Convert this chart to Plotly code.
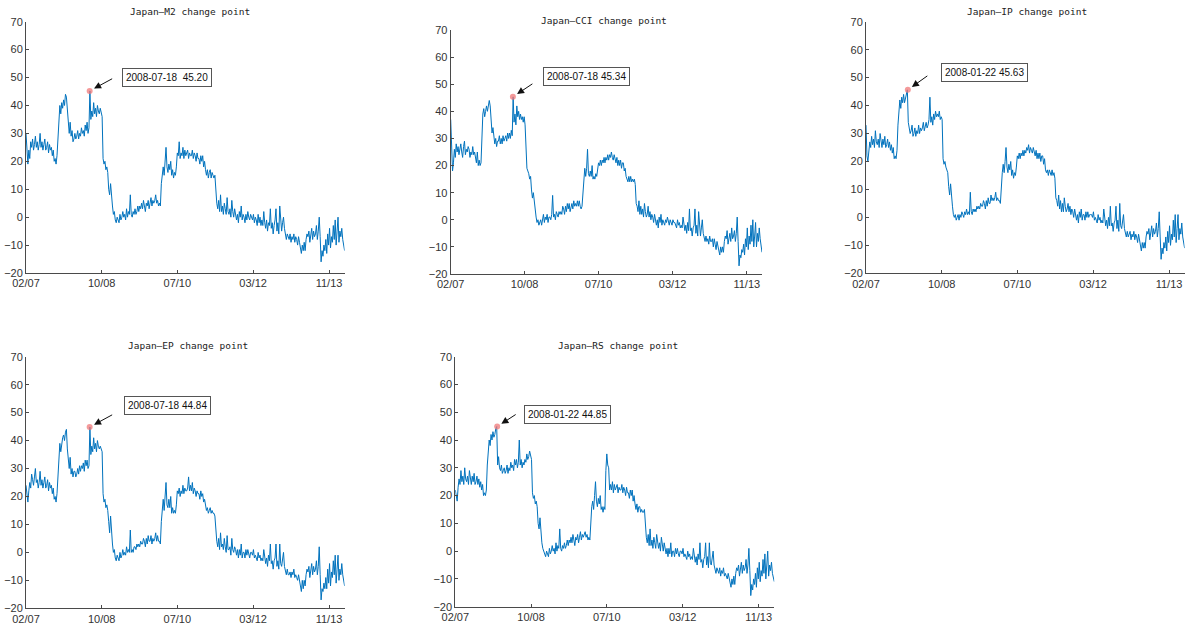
import pandas as pd
import plotly.graph_objects as go

# ---------------- data ----------------
start_date = "2007-02-15"
end_date = "2014-03-28"
tick_dates = ["2007-02-15", "2008-10-24", "2010-07-03", "2012-03-12", "2013-11-21"]
tick_labels = ["02/07", "10/08", "07/10", "03/12", "11/13"]
y_ticks = [-20, -10, 0, 10, 20, 30, 40, 50, 60, 70]

titles = ["Japan\u2014M2 change point", "Japan\u2014CCI change point", "Japan\u2014IP change point",
          "Japan\u2014EP change point", "Japan\u2014RS change point"]

m2 = [30, 22, 19, 24, 21, 27, 25, 28, 24, 26, 29, 25, 27, 24, 26, 30,
      25, 27, 24, 26, 28, 24, 25, 27, 23, 26, 24, 25, 22, 24, 20, 21,
      19, 22, 30, 38, 40, 37, 41, 39, 42, 40, 44, 43, 38, 33, 30, 34,
      29, 31, 27, 28, 30, 28, 29, 31, 28, 30, 29, 32, 30, 31, 29, 33,
      31, 34, 30, 32, 45.2, 35, 38, 36, 41, 37, 39, 36, 40, 38, 37, 39,
      37, 36, 21, 19, 20, 17, 18, 16, 10, 8, 12, 7, 4, 1, 2, -1,
      -2, 0, -1, -2, 1, -1, 0, 2, 0, 1, -1, 3, 0, 2, 1, 8,
      1, 0, 2, 1, 3, 1, 2, 4, 2, 4, 3, 5, 3, 6, 4, 2,
      5, 4, 6, 3, 5, 7, 4, 6, 5, 6, 8, 5, 6, 4, 5, 4,
      12, 16, 18, 15, 20, 25, 18, 16, 19, 17, 20, 15, 17, 14, 16, 15,
      18, 23, 22, 27, 21, 23, 22, 25, 21, 24, 22, 23, 24, 21, 23, 22,
      22, 24, 21, 23, 22, 20, 23, 21, 21, 19, 22, 20, 22, 18, 20, 17,
      15, 17, 14, 16, 17, 14, 16, 15, 14, 15, 7, 5, 3, 6, 2, 8,
      2, 4, 1, 5, 3, 1, 7, 2, 1, 3, 0, 6, 2, 0, 3, 1,
      -1, 1, -2, 2, 0, 4, -1, 1, 0, -2, 1, -1, 2, 0, -1, 1,
      0, -1, 1, -2, 0, -1, -3, 1, -2, 0, -3, -1, -3, 2, -2, -4,
      -1, -5, -2, -3, 3, -4, -2, -6, -3, -1, 3, -5, -2, -6, 4, -3,
      -5, -2, 0, -4, -7, -8, -6, -7, -8, -6, -9, -7, -8, -6, -9, -7,
      -8, -10, -7, -9, -11, -13, -10, -12, -9, -12, -8, -6, -7, -5, -9, -6,
      -4, -8, -5, -7, -6, -3, -8, -5, 0, -7, -16, -12, -14, -10, -12, -8,
      -13, -6, -10, -4, -11, -7, -9, -3, -8, -1, -10, -5, 0, -9, -5, -7,
      -4, -8, -10, -12]

cci = [37, 22, 18, 21, 26, 23, 28, 25, 27, 24, 26, 28, 25, 23, 27, 29,
       24, 26, 25, 27, 26, 23, 25, 24, 27, 24, 25, 23, 21, 25, 20, 22,
       20, 21, 31, 39, 41, 38, 40, 42, 40, 43, 44, 42, 37, 32, 34, 30,
       28, 30, 27, 29, 29, 31, 28, 30, 28, 31, 29, 30, 31, 29, 32, 30,
       32, 30, 33, 31, 45.34, 36, 39, 35, 42, 38, 40, 37, 39, 37, 38, 36,
       38, 35, 22, 19, 18, 17, 15, 16, 11, 8, 10, 6, 3, 1, -1, 0,
       -2, -1, 0, -2, 0, 2, -1, 1, 0, 2, -1, 1, 1, 0, 2, 9,
       1, 2, 0, 3, 2, 1, 3, 2, 3, 2, 5, 4, 2, 5, 3, 6,
       4, 6, 3, 5, 6, 4, 7, 5, 6, 5, 7, 5, 7, 5, 4, 5,
       11, 16, 19, 16, 19, 26, 17, 16, 18, 16, 20, 15, 16, 15, 17, 16,
       19, 21, 20, 22, 20, 22, 21, 23, 21, 23, 22, 24, 22, 24, 23, 25,
       23, 22, 24, 22, 21, 23, 20, 22, 20, 22, 19, 21, 21, 18, 19, 16,
       15, 14, 16, 14, 16, 14, 15, 14, 15, 13, 6, 5, 3, 7, 2, 5,
       2, 4, 1, 6, 3, 1, 2, 5, 1, 3, 0, 2, 1, -1, 2, 0,
       -2, 0, -3, 1, -1, 2, -2, 0, -1, -2, 0, -1, 1, -1, -2, 0,
       -1, -2, 0, -1, -1, -2, -3, 0, -2, -1, -3, -2, -3, 1, -2, -4,
       -2, -5, -1, -4, 4, -4, -3, -6, -3, -2, 4, -5, -2, -6, 3, -4,
       -6, -3, 0, -5, -7, -8, -6, -8, -7, -9, -6, -8, -8, -7, -10, -7,
       -9, -11, -8, -10, -12, -13, -10, -12, -10, -12, -8, -6, -7, -4, -9, -6,
       -5, -8, -3, -7, -6, -4, -8, -5, 1, -8, -17, -13, -14, -11, -12, -9,
       -13, -7, -10, -3, -11, -6, -9, -2, -8, 0, -10, -6, -1, -10, -5, -8,
       -3, -7, -10, -12]

ip = [33, 22, 20, 24, 27, 25, 29, 26, 28, 25, 31, 27, 26, 28, 25, 30,
      27, 25, 28, 26, 29, 25, 26, 28, 25, 27, 24, 26, 23, 25, 21, 22,
      21, 24, 33, 40, 42, 39, 43, 41, 44, 41, 43, 44, 45.63, 34, 32, 30,
      31, 33, 29, 30, 32, 29, 31, 30, 33, 30, 32, 31, 32, 34, 31, 33,
      34, 32, 33, 35, 43, 34, 36, 33, 37, 35, 38, 36, 37, 36, 38, 35,
      36, 35, 21, 19, 20, 18, 17, 16, 11, 8, 12, 7, 4, 1, 0, 1,
      -1, 0, 1, -1, 1, 0, 2, 1, 0, 2, 1, 3, 1, 2, 1, 9,
      2, 1, 3, 2, 3, 2, 4, 3, 4, 3, 5, 4, 4, 6, 5, 3,
      6, 4, 7, 5, 5, 8, 6, 7, 6, 7, 9, 6, 7, 6, 6, 5,
      12, 16, 19, 16, 20, 25, 18, 16, 19, 17, 20, 15, 17, 14, 16, 15,
      18, 22, 21, 23, 21, 23, 22, 24, 22, 24, 23, 25, 24, 26, 23, 25,
      24, 23, 25, 23, 22, 24, 21, 23, 21, 23, 20, 22, 22, 19, 21, 17,
      16, 17, 15, 17, 16, 15, 17, 15, 16, 14, 7, 6, 4, 8, 3, 6,
      2, 5, 2, 7, 4, 2, 3, 5, 2, 4, 1, 3, 2, 0, 3, 1,
      -1, 1, -2, 2, 0, 3, -1, 1, 1, -1, 2, 0, 2, 0, 1, 1,
      1, 0, 2, -1, 0, -1, -2, 1, -1, 0, -2, -1, -2, 3, -1, -3,
      -1, -4, 0, -3, 4, -3, -2, -5, -2, -1, 4, -4, -1, -5, 5, -3,
      -4, -2, 1, -4, -6, -7, -5, -7, -6, -5, -8, -6, -7, -5, -8, -6,
      -7, -9, -6, -8, -10, -12, -9, -11, -9, -11, -7, -5, -6, -4, -8, -5,
      -3, -7, -4, -6, -5, -2, -7, -4, 2, -7, -15, -11, -13, -9, -11, -7,
      -12, -5, -9, -3, -10, -6, -8, -1, -7, 1, -9, -4, 1, -8, -4, -6,
      -2, -7, -9, -11]

ep = [24, 19, 18, 22, 25, 23, 28, 26, 24, 27, 30, 25, 26, 23, 25, 29,
      24, 26, 23, 25, 27, 23, 24, 26, 22, 25, 23, 24, 21, 23, 19, 20,
      18, 21, 29, 37, 39, 36, 40, 41, 42, 40, 43, 44, 37, 32, 30, 34,
      28, 30, 27, 29, 29, 27, 28, 30, 28, 31, 29, 31, 30, 32, 29, 33,
      31, 33, 30, 31, 44.84, 35, 38, 36, 41, 37, 39, 36, 40, 38, 37, 38,
      37, 36, 21, 18, 19, 16, 17, 15, 11, 7, 13, 6, 3, 0, 1, -2,
      -3, -1, -2, -3, 0, -2, -1, 1, -1, 0, -1, 2, 0, 1, 0, 8,
      0, 1, 0, 2, 2, 1, 3, 2, 3, 2, 4, 3, 3, 5, 4, 2,
      5, 3, 6, 4, 4, 6, 3, 5, 4, 5, 7, 4, 6, 4, 4, 3,
      11, 16, 19, 15, 20, 25, 17, 16, 19, 16, 20, 14, 16, 14, 15, 14,
      17, 22, 21, 23, 20, 22, 21, 24, 21, 23, 22, 22, 23, 27, 22, 24,
      22, 25, 21, 23, 22, 20, 22, 21, 21, 19, 22, 20, 21, 18, 19, 16,
      15, 16, 14, 15, 16, 14, 15, 14, 14, 13, 6, 4, 2, 5, 1, 7,
      2, 3, 1, 5, 2, 0, 6, 1, 1, 2, -1, 5, 1, 0, 2, 1,
      -1, 1, -2, 1, -1, 3, -2, 0, 0, -2, 1, -1, 1, -1, -2, 0,
      0, -1, 1, -2, -1, -2, -3, 0, -2, -1, -3, -2, -3, 1, -2, -4,
      -2, -5, -1, -3, 3, -4, -3, -6, -3, -2, 3, -5, -3, -6, 3, -4,
      -5, -3, 0, -5, -7, -8, -6, -8, -8, -7, -9, -7, -8, -6, -9, -8,
      -9, -10, -8, -10, -12, -14, -10, -13, -10, -12, -8, -6, -7, -5, -9, -6,
      -4, -8, -5, -7, -6, -3, -8, -5, 2, -8, -17, -13, -14, -11, -13, -9,
      -13, -6, -11, -4, -12, -7, -9, -3, -8, -1, -11, -6, -1, -10, -6, -8,
      -4, -8, -10, -12]

rs = [22, 19, 18, 23, 26, 24, 29, 25, 27, 24, 30, 26, 25, 27, 24, 29,
      26, 24, 27, 25, 28, 24, 25, 27, 24, 26, 23, 25, 22, 24, 20, 21,
      20, 22, 31, 38, 40, 38, 42, 40, 43, 41, 42, 44, 44.85, 31, 34, 30,
      29, 31, 28, 29, 30, 28, 29, 31, 28, 30, 29, 32, 30, 31, 29, 33,
      31, 33, 30, 32, 40, 31, 33, 30, 32, 31, 33, 32, 35, 33, 34, 36,
      34, 33, 21, 19, 20, 17, 18, 16, 10, 8, 12, 7, 3, 1, 0, -1,
      -2, 0, -1, -2, 1, -1, 0, 2, 0, 1, -1, 3, 0, 2, 1, 8,
      1, 0, 2, 1, 3, 1, 2, 4, 2, 4, 3, 5, 3, 6, 4, 2,
      5, 4, 6, 3, 5, 7, 4, 6, 5, 6, 7, 5, 6, 4, 5, 4,
      12, 16, 18, 15, 20, 25, 18, 16, 19, 17, 20, 15, 16, 14, 16, 15,
      29, 35, 31, 30, 22, 24, 22, 25, 21, 24, 22, 23, 24, 21, 23, 22,
      22, 24, 21, 23, 22, 20, 23, 21, 21, 19, 22, 20, 22, 18, 20, 17,
      15, 17, 14, 16, 16, 14, 15, 14, 14, 15, 7, 5, 3, 6, 2, 8,
      2, 4, 1, 5, 3, 1, 6, 2, 1, 3, 0, 5, 2, 0, 3, 1,
      -1, 1, -2, 1, -1, 3, -2, 0, 0, -2, 1, -1, 1, -1, -2, 0,
      0, -1, 1, -2, -1, -2, -3, 0, -2, -1, -3, -2, -3, 1, -2, -4,
      -2, -5, -1, -3, 3, -4, -3, -6, -3, -2, 3, -5, -2, -6, 3, -4,
      -5, -3, 0, -5, -7, -8, -6, -7, -8, -6, -9, -7, -8, -6, -9, -8,
      -9, -10, -8, -10, -11, -13, -10, -12, -9, -12, -8, -6, -7, -5, -9, -6,
      -4, -8, -5, -7, -6, -3, -8, -5, 1, -7, -16, -12, -14, -10, -12, -8,
      -13, -6, -10, -4, -11, -7, -9, -3, -8, -1, -10, -5, 0, -9, -5, -7,
      -4, -8, -10, -11]

series = [m2, cci, ip, ep, rs]
peak_dates = ["2008-07-18", "2008-07-18", "2008-01-22", "2008-07-18", "2008-01-22"]
peak_values = [45.20, 45.34, 45.63, 44.84, 44.85]
peak_labels = ["2008-07-18  45.20", "2008-07-18 45.34", "2008-01-22 45.63",
               "2008-07-18 44.84", "2008-01-22 44.85"]

# ---------------- layout geometry (page pixels) ----------------
W, H = 1189, 627


def fx(px):
    return px / W


def fy(py):
    return 1 - py / H


# (left, right, top, bottom) of each plot area, in page pixels
boxes = [(26, 344.6, 21.7, 273.0),
         (450.7, 762.0, 30.0, 274.0),
         (866.0, 1184.6, 21.7, 273.3),
         (26, 344.6, 356.7, 608.3),
         (455.3, 774.3, 356.7, 606.7)]
title_pos = [(190, 12), (604, 20), (1027, 11), (188, 345.7), (618, 345.7)]
label_pos = [(167.0, 77.5), (586.2, 76.5), (984.3, 72.7), (167.8, 405.5), (567.2, 414.3)]
arrow_off = [(24, -13), (21, -14), (21, -15), (24, -13), (20, -13)]

line_color = "#0072BD"
axis_color = "#4a4a4a"
tick_font = dict(family="Liberation Sans, Arial", size=11, color="#333333")

fig = go.Figure()
layout = dict(width=W, height=H, margin=dict(l=0, r=0, t=0, b=0, autoexpand=False),
              paper_bgcolor="white", plot_bgcolor="white", showlegend=False)
annotations = []

for i, vals in enumerate(series):
    n = i + 1
    xa = "x" if n == 1 else f"x{n}"
    ya = "y" if n == 1 else f"y{n}"
    dates = pd.date_range(start_date, end_date, periods=len(vals))
    fig.add_trace(go.Scatter(x=dates, y=vals, mode="lines", xaxis=xa, yaxis=ya,
                             line=dict(color=line_color, width=1), hoverinfo="skip"))
    fig.add_trace(go.Scatter(x=[peak_dates[i]], y=[peak_values[i]], mode="markers",
                             xaxis=xa, yaxis=ya,
                             marker=dict(color="rgba(240,120,120,0.75)", size=6,
                                         line=dict(width=0))))
    l, r, t, b = boxes[i]
    layout["xaxis" if n == 1 else f"xaxis{n}"] = dict(
        domain=[fx(l), fx(r)], anchor=ya, type="date", automargin=False,
        range=[start_date, end_date], tickmode="array",
        tickvals=tick_dates, ticktext=tick_labels,
        showline=True, linecolor=axis_color, linewidth=1, mirror=False,
        ticks="inside", ticklen=3, tickcolor=axis_color,
        showgrid=False, zeroline=False, tickfont=tick_font)
    layout["yaxis" if n == 1 else f"yaxis{n}"] = dict(
        domain=[fy(b), fy(t)], anchor=xa, range=[-20, 70], automargin=False,
        tickmode="array", tickvals=y_ticks,
        showline=True, linecolor=axis_color, linewidth=1, mirror=False,
        ticks="inside", ticklen=3, tickcolor=axis_color,
        showgrid=False, zeroline=False, tickfont=tick_font)
    tx, ty = title_pos[i]
    annotations.append(dict(xref="paper", yref="paper", x=fx(tx), y=fy(ty),
                            xanchor="center", yanchor="middle", showarrow=False,
                            text=titles[i],
                            font=dict(family="DejaVu Sans Mono", size=9.5, color="#222222")))
    lx, ly = label_pos[i]
    annotations.append(dict(xref="paper", yref="paper", x=fx(lx), y=fy(ly),
                            xanchor="center", yanchor="middle", showarrow=False,
                            text=peak_labels[i], bordercolor="#555555", borderwidth=1,
                            borderpad=3, bgcolor="white",
                            font=dict(family="Liberation Sans, Arial", size=10, color="#111111")))
    ax, ay = arrow_off[i]
    annotations.append(dict(xref=xa, yref=ya, x=peak_dates[i], y=peak_values[i],
                            ax=ax, ay=ay, text="", showarrow=True, arrowhead=2,
                            arrowsize=1.4, arrowwidth=1, arrowcolor="#111111",
                            standoff=5))

layout["annotations"] = annotations
fig.update_layout(**layout)
# remove the default page margin so the figure fills the window exactly
fig.write_html("out.html",
               config={"displayModeBar": False, "staticPlot": True},
               post_script="document.body.style.margin='0';document.body.style.overflow='hidden';")
